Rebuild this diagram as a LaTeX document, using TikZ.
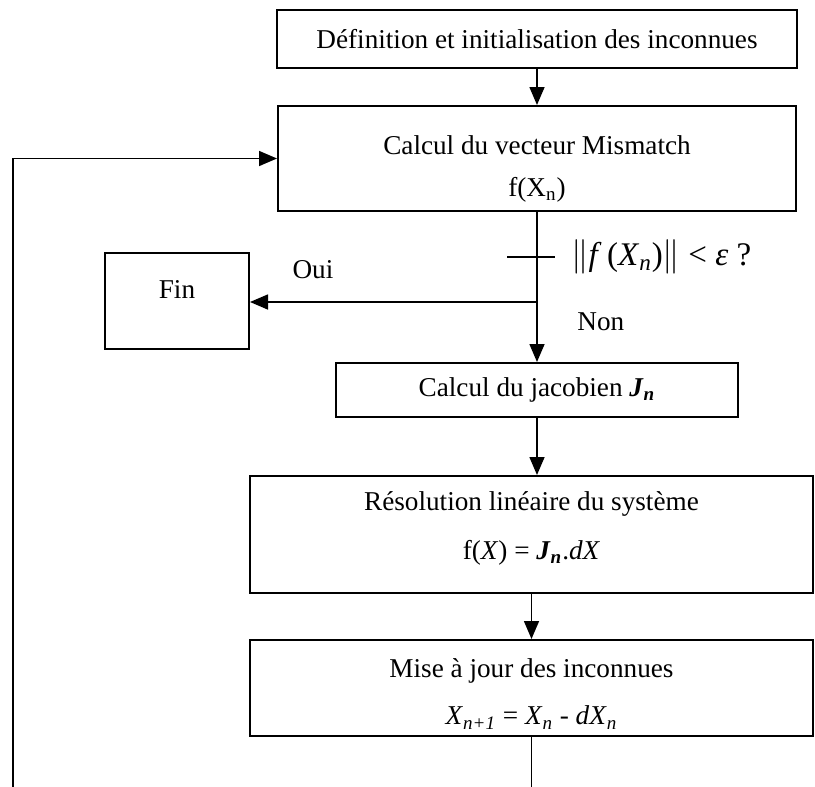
\documentclass[tikz,border=0pt]{standalone}
\usepackage{fontspec}
\setmainfont{Liberation Serif}
\usetikzlibrary{arrows.meta}

\tikzset{
  box/.style={draw, line width=1pt, inner sep=0pt},
  boxtext/.style={align=center, inner sep=0pt, font=\fontsize{13.6}{15.5}\selectfont},
  flow/.style={line width=0.8pt, -{Triangle[length=9pt, width=7.5pt]}},
  wire/.style={line width=0.8pt},
  lbl/.style={font=\fontsize{13.6}{15.5}\selectfont, inner sep=0pt}
}

\begin{document}
\begin{tikzpicture}[x=0.5pt, y=-0.5pt]

\useasboundingbox (0,0) rectangle (815,787);

% ── Boxes ──
\node[box, minimum width=260pt, minimum height=29pt,
      label={[boxtext]center:Définition et initialisation des inconnues}] (defin) at (537, 39) {};
\node[box, minimum width=259pt, minimum height=52.5pt,
      label={[boxtext, yshift=-5pt]center:{Calcul du vecteur Mismatch\\[5.5pt]f(X\textsubscript{n})}}] (mismatch) at (537, 158.5) {};
\node[box, minimum width=72pt, minimum height=48pt,
      label={[lbl, anchor=north, yshift=-14pt]north:Fin}] (fin) at (177, 301) {};
\node[box, minimum width=201pt, minimum height=27pt,
      label={[boxtext]center:Calcul du jacobien \textbf{\textit{J}}\textsubscript{\textbf{\textit{n}}}}] (jacob) at (537, 390) {};
\node[box, minimum width=281.5pt, minimum height=58.5pt,
      label={[boxtext, yshift=3pt]center:{Résolution linéaire du système\\[9pt]f(\textit{X}) = \textbf{\textit{J}}\textsubscript{\textbf{\textit{n}}}.\textit{dX}}}] (resol) at (531.5, 534.5) {};
\node[box, minimum width=281.5pt, minimum height=48pt,
      label={[boxtext, yshift=-3pt]center:{Mise à jour des inconnues\\[8pt]\textit{X}\textsubscript{\textit{n+1}} = \textit{X}\textsubscript{\textit{n}} - \textit{dX}\textsubscript{\textit{n}}}}] (maj) at (531.5, 688) {};

% ── Test ──
\coordinate (tick) at (537, 257);
\coordinate (branch) at (537, 302);
\draw[wire] ([xshift=-15pt]tick) -- ([xshift=9pt]tick);
\node[anchor=west, inner sep=0pt, font=\fontsize{16.5}{19}\selectfont] (test) at (571, 257) {$\|$\textit{f}\,(\textit{X}\textsubscript{\textit{n}})$\|$ < \textit{ε} ?};
\node[lbl] (oui) at (313, 270) {Oui};
\node[lbl, anchor=west] (non) at (577, 322) {Non};

% ── Connectors ──
\draw[flow] (defin) -- (mismatch);
\draw[flow] (mismatch) -- (jacob);
\draw[flow] (branch) -- (branch -| fin.east);
\draw[flow] (jacob) -- (jacob.south |- resol.north);
\draw[flow] (resol) -- (maj);

% Loop back
\coordinate (bottom) at (531.5, 787);
\coordinate (loopstart) at (13, 787);
\draw[wire] (maj) -- (bottom);
\draw[flow] (loopstart) |- (mismatch.west);

\end{tikzpicture}
\end{document}
